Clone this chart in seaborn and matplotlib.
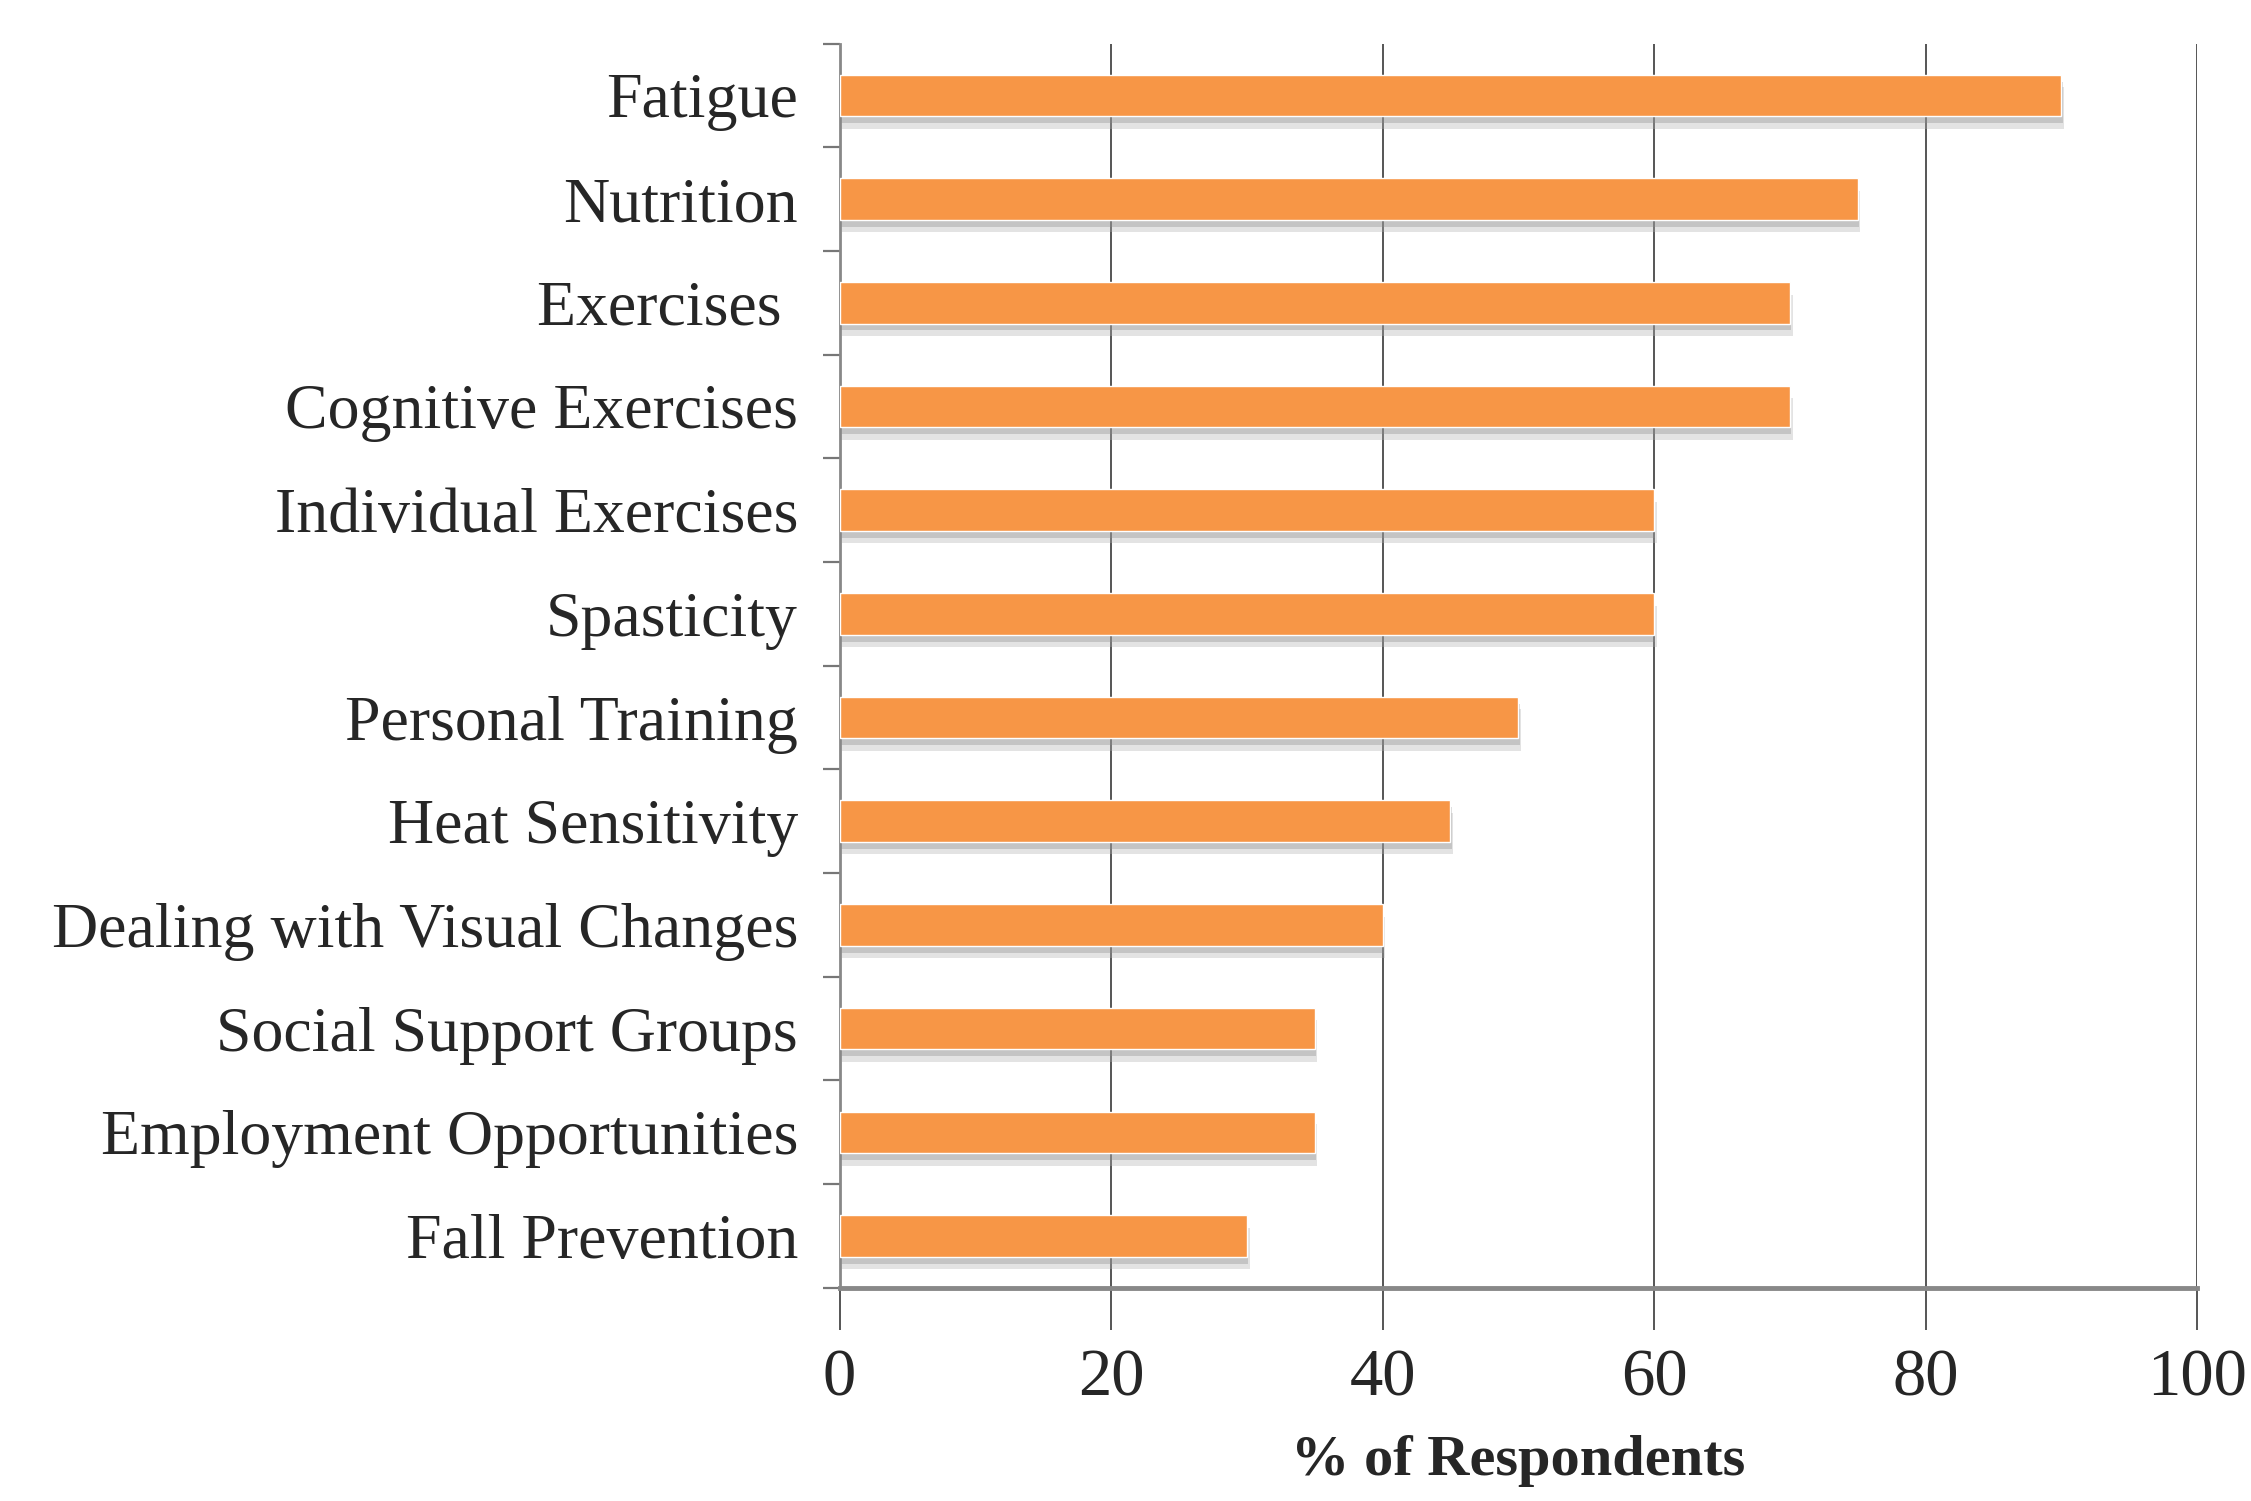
import numpy as np
import pandas as pd
import seaborn as sns
import matplotlib.pyplot as plt
import matplotlib.patheffects as pe
from matplotlib.ticker import FixedLocator

# data
categories = [
    "Fatigue", "Nutrition", "Exercises ", "Cognitive Exercises",
    "Individual Exercises", "Spasticity", "Personal Training",
    "Heat Sensitivity", "Dealing with Visual Changes",
    "Social Support Groups", "Employment Opportunities", "Fall Prevention",
]
percent = [90, 75, 70, 70, 60, 60, 50, 45, 40, 35, 35, 30]
x_ticks = [0, 20, 40, 60, 80, 100]

df = pd.DataFrame({"need": categories, "pct": percent})

sns.set_style("white")
plt.rcParams["font.family"] = ["Liberation Serif", "DejaVu Serif"]

fig = plt.figure(figsize=(22.51, 15.01), dpi=100)
ax = fig.add_axes([0.373, 0.142, 0.603, 0.829])

sns.barplot(data=df, x="pct", y="need", orient="h", color="#F79646",
            width=0.40, saturation=1, ax=ax, zorder=3)

# soft drop shadow under each bar, like the office chart
for bar in ax.patches:
    bar.set_path_effects([
        pe.SimplePatchShadow(offset=(2, -9), shadow_rgbFace="#b0b0b0", alpha=0.35),
        pe.SimplePatchShadow(offset=(1, -5), shadow_rgbFace="#8c8c8c", alpha=0.35),
        pe.Normal(),
    ])

ax.set_xlim(0, 100)
ax.set_ylim(len(categories) - 0.5, -0.5)
ax.set_xticks(x_ticks)
ax.set_xticklabels([str(t) for t in x_ticks], fontsize=48)

# vertical gridlines
for t in x_ticks[1:]:
    ax.axvline(t, color="#555555", lw=1.4, zorder=1)

ax.tick_params(axis="x", length=30, width=1.4, color="#555555", pad=14,
               direction="out", bottom=True)
ax.tick_params(axis="y", which="major", length=0, labelsize=46, pad=30)
ax.yaxis.set_minor_locator(FixedLocator(np.arange(-0.5, len(categories), 1.0)))
ax.tick_params(axis="y", which="minor", length=12, width=1.6, color="#777777",
               direction="out", left=True)

for side in ["top", "right"]:
    ax.spines[side].set_visible(False)
ax.spines["left"].set_color("#888888")
ax.spines["left"].set_linewidth(2)
ax.spines["bottom"].set_color("#888888")
ax.spines["bottom"].set_linewidth(3.5)

ax.set_ylabel("")
ax.set_xlabel("% of Respondents", fontsize=42, fontweight="bold", labelpad=18)

fig.savefig("out.png", dpi=100, facecolor="white")
